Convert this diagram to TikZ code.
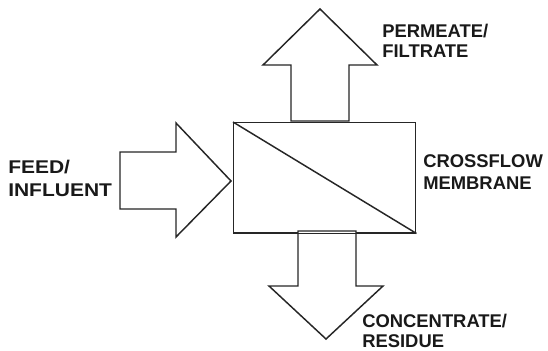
\documentclass[tikz,border=0pt]{standalone}
\usepackage{fontspec}
\setmainfont{Liberation Sans}
\begin{document}
\begin{tikzpicture}[x=0.75pt,y=-0.75pt,
  outline/.style={draw=black!85,line width=1.1pt,line join=miter,fill=white},
  label/.style={anchor=base west,inner sep=0pt,font=\fontsize{13.8pt}{16pt}\selectfont\bfseries,text=black!90}]
  \useasboundingbox (0,0) rectangle (548,350);

  % membrane module
  \node[outline,rectangle,inner sep=0pt,minimum width=182*0.75pt,minimum height=110*0.75pt,anchor=north west] (module) at (233,122) {};
  \draw[black!85,line width=1.1pt] (module.north west) -- (module.south east);

  % feed arrow (left, pointing right)
  \coordinate (feedtip) at (231,181);
  \draw[outline] (120,152) -- (176,152) -- (176,123) -- (feedtip) -- (176,237) -- (176,209) -- (120,209) -- cycle;

  % permeate arrow (top, pointing up)
  \coordinate (permtip) at (320,9);
  \draw[outline] (291,121) -- (291,65) -- (263,65) -- (permtip) -- (377,65) -- (349,65) -- (349,121) -- cycle;

  % concentrate arrow (bottom, pointing down)
  \coordinate (conctip) at (326,339);
  \draw[outline] (298,231) -- (356,231) -- (356,286) -- (383,286) -- (conctip) -- (269,286) -- (298,286) -- cycle;
  \draw[black!85,line width=1.1pt] (module.south west) -- (module.south east);

  % labels
  \node[label] (perm1) at (382,37) {PERMEATE/};
  \node[label] (perm2) at (382,57) {FILTRATE};
  \node[label] (feed1) at (8,173) {\scalebox{1.14}[1]{FEED/}};
  \node[label] (feed2) at (8,196) {\scalebox{1.14}[1]{INFLUENT}};
  \node[label] (mem1) at (423,167) {CROSSFLOW};
  \node[label] (mem2) at (423,189) {MEMBRANE};
  \node[label] (conc1) at (362,327) {CONCENTRATE/};
  \node[label] (conc2) at (362,347) {RESIDUE};
\end{tikzpicture}
\end{document}
